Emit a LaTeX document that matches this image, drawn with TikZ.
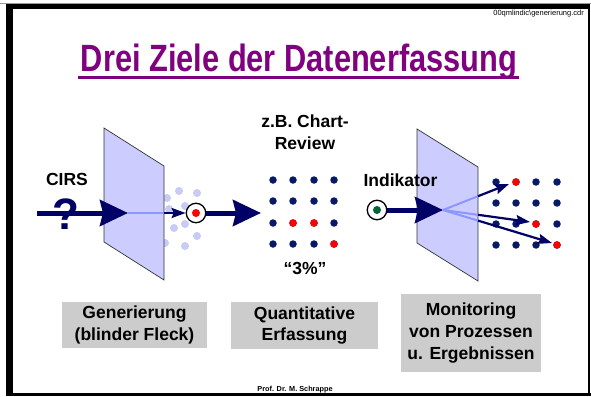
\documentclass[tikz,border=0pt]{standalone}
\usepackage{fontspec}
\setmainfont{Liberation Sans}
\newfontfamily\titlefont[FakeStretch=0.81]{Liberation Sans}
\usetikzlibrary{arrows.meta}
\definecolor{navy}{RGB}{0,0,102}
\definecolor{dotnavy}{RGB}{8,26,102}
\definecolor{titlepurple}{RGB}{128,0,128}
\definecolor{planefill}{RGB}{204,204,255}
\definecolor{haze}{RGB}{200,204,245}
\definecolor{fanlight}{RGB}{140,150,255}
\definecolor{boxgray}{RGB}{204,204,204}
\definecolor{darkgreen}{RGB}{0,102,51}
\tikzset{
  bigarrow/.style={draw=navy, line width=5pt, -{Stealth[length=28pt,width=26pt,inset=3pt]}},
  smallarrow/.style={draw=navy, line width=2.2pt, -{Stealth[length=14pt,width=10pt,inset=2pt]}},
  fanline/.style={draw=fanlight, line width=2pt},
  plane/.style={fill=planefill, draw=black!80, line width=0.7pt},
  griddot/.style={circle, fill=dotnavy, inner sep=0pt, minimum size=7.5pt},
  hotdot/.style={griddot, fill=red},
  hazedot/.style={circle, fill=haze, inner sep=0pt, minimum size=8pt},
  ring/.style={circle, draw=black, line width=1.3pt, fill=white, inner sep=0pt, minimum size=19.5pt},
  label/.style={font=\bfseries\fontsize{17.5}{21.7}\selectfont, align=center, inner sep=0pt},
  infobox/.style={label, fill=boxgray},
  tiny/.style={font=\fontsize{7.5}{9}\selectfont, inner sep=0pt}
}
\begin{document}
\begin{tikzpicture}[x=1pt, y=-1pt]
\useasboundingbox (0,0) rectangle (591,396);
\fill[white] (0,0) rectangle (591,396);

% slide frame
\draw[black!40, line width=0.8pt] (0,3) -- (591,3);
\fill[black] (6,4.5) rectangle (589,9.5);
\fill[black] (6,4.5) rectangle (13,396);
\fill[black] (588,4.5) rectangle (590,396);
\fill[black] (6,393) rectangle (591,396);

% header and footer
\node[tiny, anchor=east] (file) at (584,14) {00qmlindic\textbackslash generierung.cdr};
\node[font=\bfseries\fontsize{7.3}{9}\selectfont, inner sep=0pt] (author) at (295,389.5) {Prof. Dr. M. Schrappe};

% title
\node[font=\titlefont\bfseries\fontsize{38}{40}\selectfont, text=titlepurple, anchor=base, inner sep=0pt] (title) at (299,71) {Drei Ziele der Datenerfassung};
\draw[titlepurple, line width=3pt] ([yshift=-6pt,xshift=-3pt]title.base west) -- ([yshift=-6pt,xshift=2pt]title.base east);

% ---------- left: generation ----------
\foreach \x/\y [count=\i] in {179/191,197/193,167/198,185/206,169/209,174/228,185/224,197/236,185/246,165/243}
  \node[hazedot] (h\i) at (\x,\y) {};
\draw[plane] (104,128) -- (164,166) -- (164,280) -- (104,242) -- cycle;
\node[label] (cirs) at (67,179) {CIRS};
\node[font=\bfseries\fontsize{44}{44}\selectfont, text=navy, inner sep=0pt] (qmark) at (66,214) {?};
\coordinate (inL) at (37,213);
\coordinate (tipL) at (128,213);
\coordinate (edgeL) at (164,213);
\node[ring] (r1) at (196,213) {};
\node[circle, fill=red, inner sep=0pt, minimum size=8pt] (r1c) at (r1) {};
\draw[bigarrow] (inL) -- (tipL);
\draw[fanline] (tipL) -- (edgeL);
\draw[smallarrow] (edgeL) -- (r1.west);
\coordinate (tipM) at (261,213);
\draw[bigarrow] (r1.east) -- (tipM);

% ---------- middle: quantitative review ----------
\node[label] (chart) at (305,132) {z.B. Chart-\\Review};
\foreach \r/\y in {1/180,2/201,3/223,4/244}
  \foreach \c/\x in {1/273,2/293,3/314,4/334}
    \node[griddot] (m\r\c) at (\x,\y) {};
\node[hotdot] at (m32) {};
\node[hotdot] at (m33) {};
\node[hotdot] at (m44) {};
\node[label] (pct) at (305,268) {“3\%”};

% ---------- right: monitoring ----------
\node[ring] (r2) at (377,210) {};
\node[circle, fill=darkgreen, inner sep=0pt, minimum size=8pt] (r2c) at (r2) {};
\foreach \r/\y in {1/182,2/203,3/224,4/245}
  \foreach \c/\x in {1/496,2/516,3/536,4/557}
    \node[griddot] (q\r\c) at (\x,\y) {};
\node[hotdot] at (q12) {};
\node[hotdot] at (q33) {};
\node[hotdot] at (q44) {};
\draw[plane] (417,129) -- (478,167) -- (478,281) -- (417,243) -- cycle;
\node[label] (ind) at (400.5,180) {Indikator};
\coordinate (fan) at (443,210);
\draw[bigarrow] (r2.east) -- (fan);
\coordinate (e1) at (478,196.2);
\coordinate (e2) at (478,214.8);
\coordinate (e3) at (478,220.6);
\coordinate (t1) at (509,184);
\coordinate (t2) at (530,222);
\coordinate (t3) at (552,243);
\draw[fanline] (fan) -- (e1);
\draw[fanline] (fan) -- (e2);
\draw[fanline] (fan) -- (e3);
\draw[smallarrow] (e1) -- (t1);
\draw[smallarrow] (e2) -- (t2);
\draw[smallarrow] (e3) -- (t3);

% ---------- captions ----------
\node[infobox, minimum width=145pt, minimum height=46pt] (b1) at (134.5,325) {Generierung\\(blinder Fleck)};
\node[infobox, minimum width=147pt, minimum height=47pt] (b2) at (304.5,325.5) {Quantitative\\Erfassung};
\node[infobox, minimum width=140pt, minimum height=78pt] (b3) at (471,333) {Monitoring\\von Prozessen\\u. Ergebnissen};
\end{tikzpicture}
\end{document}
